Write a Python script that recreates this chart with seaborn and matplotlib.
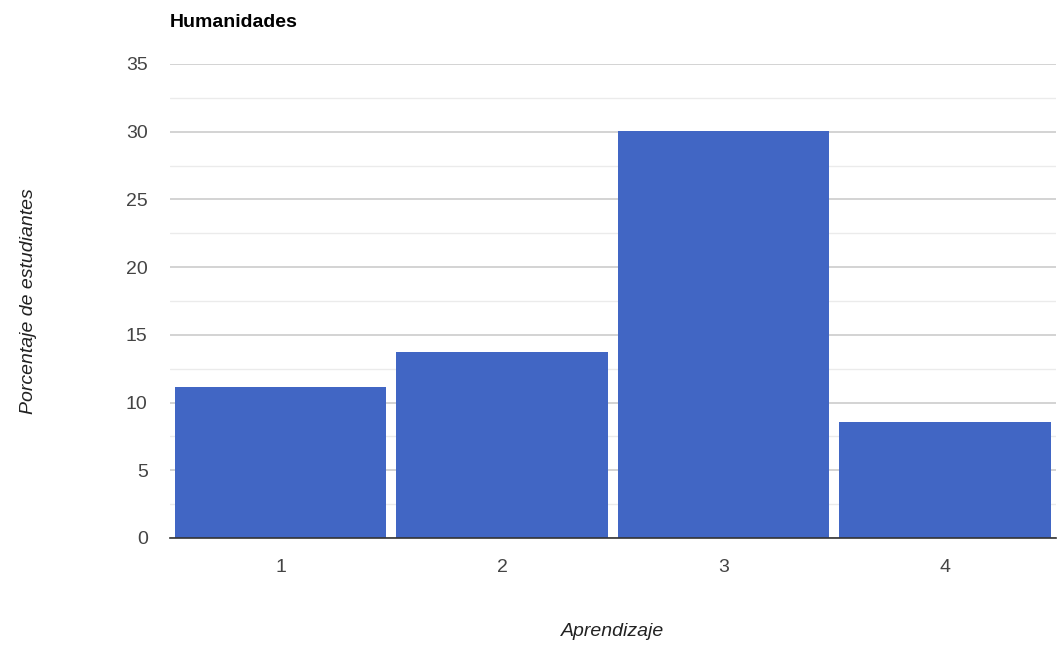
import numpy as np
import pandas as pd
import matplotlib
matplotlib.use('Agg')
import matplotlib.pyplot as plt
from matplotlib.ticker import MultipleLocator
import seaborn as sns

# data
aprendizaje = ['1', '2', '3', '4']
porcentaje = [11.15, 13.7, 30.05, 8.57]

df = pd.DataFrame({'Aprendizaje': aprendizaje, 'Porcentaje': porcentaje})

sns.set_style('white')
plt.rcParams['font.family'] = ['Liberation Sans', 'DejaVu Sans']

fig = plt.figure(figsize=(10.59, 6.51), dpi=100)
ax = fig.add_axes([0.1605, 0.1736, 0.8365, 0.7281])

sns.barplot(data=df, x='Aprendizaje', y='Porcentaje', color='#4166c4',
            saturation=1, width=0.955, linewidth=0, ax=ax, zorder=3)

ax.set_ylim(0, 35)
ax.set_xlim(-0.5, 3.5)
ax.yaxis.set_major_locator(MultipleLocator(5))
ax.yaxis.set_minor_locator(MultipleLocator(2.5))
ax.grid(axis='y', which='major', color='#cccccc', linewidth=1.2, zorder=0)
ax.grid(axis='y', which='minor', color='#ebebeb', linewidth=1.0, zorder=0)
ax.set_axisbelow(True)

for s in ['top', 'right', 'left']:
    ax.spines[s].set_visible(False)
ax.spines['bottom'].set_color('#333333')
ax.spines['bottom'].set_linewidth(1.2)
ax.spines['bottom'].set_zorder(4)

ax.tick_params(axis='both', length=0, labelsize=14, colors='#444444')
ax.tick_params(axis='y', pad=16)
ax.tick_params(axis='x', pad=15)

ax.set_xlabel('Aprendizaje', fontsize=14, style='italic', color='#222222', labelpad=34)
ax.set_ylabel('Porcentaje de estudiantes', fontsize=14, style='italic', color='#222222', labelpad=64)

fig.text(0.1605, 0.965, 'Humanidades', fontsize=14, fontweight='bold', color='#000000',
         ha='left', va='center')

fig.savefig('out.png', dpi=100)
